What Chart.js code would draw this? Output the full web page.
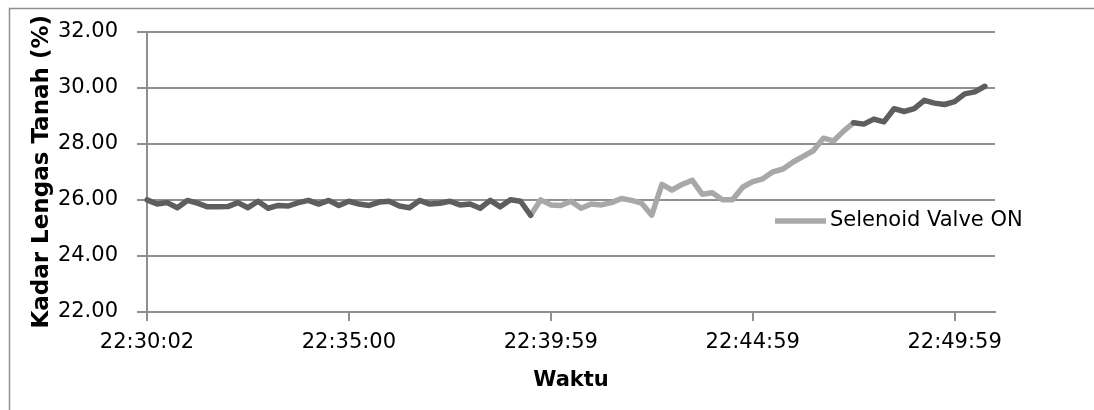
<!DOCTYPE html>
<html>
<head>
<meta charset="utf-8">
<script src="https://cdn.jsdelivr.net/npm/chart.js@4/dist/chart.umd.min.js"></script>
<style>
  html, body { margin: 0; padding: 0; background: #fff; }
  #wrap { width: 1094px; height: 410px; position: relative; }
</style>
</head>
<body>
<div id="wrap"><canvas id="kadarChart" width="1094" height="410"></canvas></div>
<script>
// waktu sampling (kategori sumbu x)
const waktu = [
    "22:30:02", "22:30:17", "22:30:32", "22:30:47", "22:31:02", "22:31:17", "22:31:32", "22:31:47",
    "22:32:02", "22:32:17", "22:32:32", "22:32:47", "22:33:01", "22:33:16", "22:33:31", "22:33:46",
    "22:34:01", "22:34:15", "22:34:30", "22:34:45",
    "22:35:00", "22:35:15", "22:35:30", "22:35:45", "22:36:00", "22:36:15", "22:36:30", "22:36:45",
    "22:37:00", "22:37:15", "22:37:30", "22:37:45", "22:38:00", "22:38:14", "22:38:29", "22:38:44",
    "22:38:59", "22:39:14", "22:39:29", "22:39:44",
    "22:39:59", "22:40:14", "22:40:29", "22:40:44", "22:40:59", "22:41:14", "22:41:29", "22:41:44",
    "22:41:59", "22:42:14", "22:42:29", "22:42:44", "22:42:59", "22:43:14", "22:43:29", "22:43:44",
    "22:43:59", "22:44:14", "22:44:29", "22:44:44",
    "22:44:59", "22:45:14", "22:45:29", "22:45:44", "22:45:59", "22:46:14", "22:46:29", "22:46:44",
    "22:46:59", "22:47:14", "22:47:29", "22:47:44", "22:47:59", "22:48:14", "22:48:29", "22:48:44",
    "22:48:59", "22:49:14", "22:49:29", "22:49:44",
    "22:49:59", "22:50:14", "22:50:29", "22:50:44", "22:50:59"
];

// kadar lengas tanah (%)
const kadar = [
    26.00, 25.85, 25.90, 25.72, 25.98, 25.88, 25.75, 25.75, 25.76, 25.90,
    25.72, 25.95, 25.70, 25.80, 25.78, 25.90, 25.98, 25.85, 25.98, 25.80,
    25.95, 25.85, 25.80, 25.92, 25.95, 25.78, 25.72, 25.98, 25.85, 25.88,
    25.95, 25.82, 25.85, 25.70, 25.98, 25.75, 26.00, 25.95, 25.45, 26.00,
    25.82, 25.80, 25.95, 25.70, 25.85, 25.82, 25.90, 26.05, 25.98, 25.88,
    25.45, 26.55, 26.35, 26.55, 26.70, 26.20, 26.25, 26.00, 26.00, 26.45,
    26.65, 26.75, 27.00, 27.10, 27.35, 27.55, 27.75, 28.20, 28.10, 28.45,
    28.75, 28.70, 28.88, 28.78, 29.25, 29.15, 29.25, 29.55, 29.45, 29.40,
    29.50, 29.78, 29.85, 30.05
];

// index awal dan akhir saat selenoid valve ON
const valveOn = [38, 70];

const tickWaktu = ["22:30:02", "22:35:00", "22:39:59", "22:44:59", "22:49:59"];
const tickKadar = [22, 24, 26, 28, 30, 32];

const dataOff = kadar.map((v, i) => (i <= valveOn[0] || i >= valveOn[1]) ? v : null);
const dataOn = kadar.map((v, i) => (i >= valveOn[0] && i <= valveOn[1]) ? v : null);

const FONT = "'DejaVu Sans', sans-serif";

const frame = {
    id: "frame",
    beforeDraw(chart) {
        const c = chart.ctx;
        c.save();
        c.fillStyle = "#fff";
        c.fillRect(0, 0, chart.width, chart.height);
        c.strokeStyle = "#8f8f8f";
        c.lineWidth = 1.5;
        c.strokeRect(9.5, 8.5, chart.width, chart.height);
        c.restore();
    }
};

const legendIn = {
    id: "legendIn",
    afterDraw(chart) {
        const ds = chart.data.datasets[1];
        const c = chart.ctx;
        c.save();
        c.strokeStyle = ds.borderColor;
        c.lineWidth = ds.borderWidth;
        c.lineCap = "butt";
        c.beginPath();
        c.moveTo(775, 221);
        c.lineTo(826, 221);
        c.stroke();
        c.fillStyle = "#000";
        c.font = "21px " + FONT;
        c.textBaseline = "middle";
        c.textAlign = "left";
        c.fillText(ds.label, 830, 221);
        c.restore();
    }
};

new Chart(document.getElementById("kadarChart"), {
    type: "line",
    data: {
        labels: waktu,
        datasets: [{
            label: "Selenoid Valve OFF",
            data: dataOff,
            borderColor: "#5e5e5e",
            borderWidth: 5.5,
            pointRadius: 0,
            tension: 0,
            spanGaps: false,
            borderJoinStyle: "round",
            borderCapStyle: "round"
        }, {
            label: "Selenoid Valve ON",
            data: dataOn,
            borderColor: "#a8a8a8",
            borderWidth: 5.5,
            pointRadius: 0,
            tension: 0,
            spanGaps: false,
            borderJoinStyle: "round",
            borderCapStyle: "round"
        }]
    },
    options: {
        responsive: false,
        animation: false,
        layout: {
            padding: { left: 27, right: 99, top: 30, bottom: 14 }
        },
        scales: {
            x: {
                type: "category",
                offset: false,
                afterBuildTicks: scale => {
                    scale.ticks = scale.ticks.filter(t => tickWaktu.includes(waktu[t.value]));
                },
                afterFit: scale => { scale.height = 84; },
                ticks: {
                    autoSkip: false,
                    maxRotation: 0,
                    color: "#000",
                    padding: 9,
                    font: { family: FONT, size: 21 }
                },
                grid: {
                    display: true,
                    drawOnChartArea: false,
                    drawTicks: true,
                    tickLength: 9,
                    color: "#8f8f8f",
                    lineWidth: 2
                },
                border: { color: "#8f8f8f", width: 2 },
                title: {
                    display: true,
                    text: "Waktu",
                    color: "#000",
                    font: { family: FONT, size: 21, weight: "bold" },
                    padding: { top: 4, bottom: 3 }
                }
            },
            y: {
                min: 22,
                max: 32,
                afterBuildTicks: scale => {
                    scale.ticks = tickKadar.map(v => ({ value: v }));
                },
                afterFit: scale => { scale.width = 120; },
                ticks: {
                    color: "#000",
                    padding: 19,
                    font: { family: FONT, size: 21 },
                    callback: v => Number(v).toFixed(2)
                },
                grid: {
                    color: "#8f8f8f",
                    lineWidth: 2,
                    tickLength: 10
                },
                border: { color: "#8f8f8f", width: 2 },
                title: {
                    display: true,
                    text: "Kadar Lengas Tanah (%)",
                    color: "#000",
                    font: { family: FONT, size: 23, weight: "bold" },
                    padding: { top: 1, bottom: 4 }
                }
            }
        },
        plugins: {
            legend: { display: false },
            tooltip: { enabled: false }
        }
    },
    plugins: [frame, legendIn]
});
</script>
</body>
</html>
